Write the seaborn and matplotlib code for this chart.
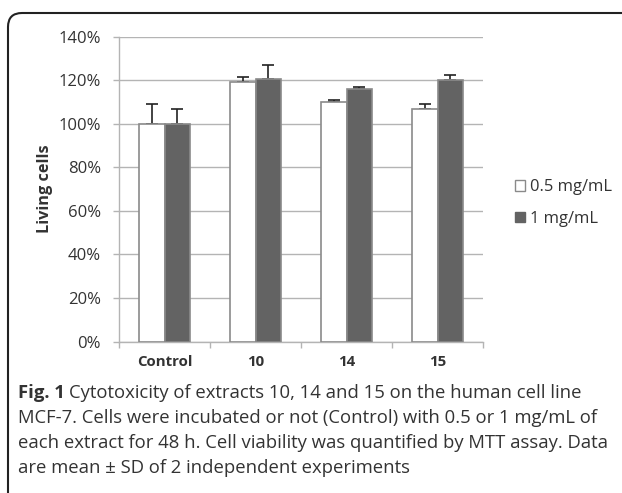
import matplotlib
matplotlib.use("Agg")
import matplotlib.pyplot as plt
import matplotlib.transforms as mtransforms
from matplotlib.patches import FancyBboxPatch, Patch
from matplotlib.ticker import FuncFormatter, FixedLocator
import seaborn as sns
import pandas as pd
import numpy as np

# data (percent of control)
groups = ["Control", "10", "14", "15"]
doses = ["0.5 mg/mL", "1 mg/mL"]
mean_low = [100, 119, 110, 107]
mean_high = [100, 120.7, 116, 120]
sd_low = [9, 2.7, 0.9, 2.2]
sd_high = [7, 6.3, 1, 2.2]

df = pd.DataFrame({
    "group": groups * 2,
    "dose": [doses[0]] * 4 + [doses[1]] * 4,
    "living": mean_low + mean_high,
    "sd": sd_low + sd_high,
})

sns.set_style("white")
plt.rcParams["font.family"] = ["Open Sans", "DejaVu Sans"]

W, H = 622, 493
fig = plt.figure(figsize=(W / 100, H / 100), dpi=100)
ax = fig.add_axes([119 / W, 1 - 341.5 / H, (483 - 119) / W, (341.5 - 36.7) / H])

grid_c = "#b4b4b4"
edge_c = "#8a8a8a"
dark = "#636363"
text_c = "#333333"

sns.barplot(data=df, x="group", y="living", hue="dose", order=groups,
            hue_order=doses, palette=["white", dark], errorbar=None,
            width=0.57, gap=0, ax=ax, legend=False, zorder=3,
            edgecolor=edge_c, linewidth=1.2)

# upward-only error bars on each bar
for cont, d in zip(ax.containers, doses):
    sub = df[df["dose"] == d].set_index("group").loc[groups]
    xs = [p.get_x() + p.get_width() / 2 for p in cont.patches]
    ax.errorbar(xs, sub["living"], yerr=[np.zeros(len(xs)), sub["sd"]],
                fmt="none", ecolor="#222222", elinewidth=1.2, capsize=4,
                capthick=1.2, zorder=2)

ax.set_ylim(0, 140)
ax.set_xlim(-0.5, 3.5)
ax.yaxis.set_major_locator(FixedLocator(np.arange(0, 141, 20)))
ax.yaxis.set_major_formatter(FuncFormatter(lambda v, p: f"{v:.0f}%"))
ax.grid(axis="y", color=grid_c, linewidth=1.0, zorder=0)
ax.set_axisbelow(True)
for s in ["top", "right"]:
    ax.spines[s].set_visible(False)
for s in ["left", "bottom"]:
    ax.spines[s].set_color(grid_c)
    ax.spines[s].set_linewidth(1.0)

ax.tick_params(axis="y", length=4, color=grid_c, width=1.0, pad=9,
               labelsize=12, labelcolor=text_c, left=True)
ax.tick_params(axis="x", which="major", length=0, pad=10, labelsize=10.8,
               labelcolor=text_c)
ax.set_xticks(np.arange(-0.5, 3.6, 1.0), minor=True)
ax.tick_params(axis="x", which="minor", length=4, color=grid_c, width=1.0,
               bottom=True)
for lab in ax.get_xticklabels():
    lab.set_fontweight("bold")

ax.set_xlabel("")
ax.set_ylabel("Living cells", fontsize=11.7, fontweight="bold", color=text_c,
              labelpad=4)

handles = [Patch(facecolor="white", edgecolor=edge_c, linewidth=1.0),
           Patch(facecolor=dark, edgecolor=dark, linewidth=1.0)]
fig.legend(handles, doses, loc="center left",
           bbox_to_anchor=(500 / W, 1 - 203 / H), frameon=False,
           fontsize=11.9, handlelength=0.62, handleheight=0.62,
           handletextpad=0.3, labelspacing=0.95, labelcolor=text_c)

# rounded panel frame
pix = mtransforms.IdentityTransform()
frame = FancyBboxPatch((8, -40), 700, H - 13 + 40,
                       boxstyle="round,pad=0,rounding_size=14",
                       transform=pix, facecolor="none", edgecolor="#222222",
                       linewidth=1.5)
fig.patches.append(frame)

# caption
cap_size = 13.3
cap_lines = [
    "Cytotoxicity of extracts 10, 14 and 15 on the human cell line",
    "MCF-7. Cells were incubated or not (Control) with 0.5 or 1 mg/mL of",
    "each extract for 48 h. Cell viability was quantified by MTT assay. Data",
    "are mean \u00b1 SD of 2 independent experiments",
]
x0 = 18 / W
ys = [393, 418, 443, 468]
fig.canvas.draw()
r = fig.canvas.get_renderer()
t = fig.text(x0, 1 - ys[0] / H, "Fig. 1", fontsize=cap_size,
             fontweight="bold", color=text_c, va="center", ha="left")
bb = t.get_window_extent(renderer=r)
fig.text((bb.x1 + 4) / W, 1 - ys[0] / H, cap_lines[0], fontsize=cap_size,
         color=text_c, va="center", ha="left")
for line, y in zip(cap_lines[1:], ys[1:]):
    fig.text(x0, 1 - y / H, line, fontsize=cap_size, color=text_c,
             va="center", ha="left")

fig.savefig("out.png", dpi=100, facecolor="white")
